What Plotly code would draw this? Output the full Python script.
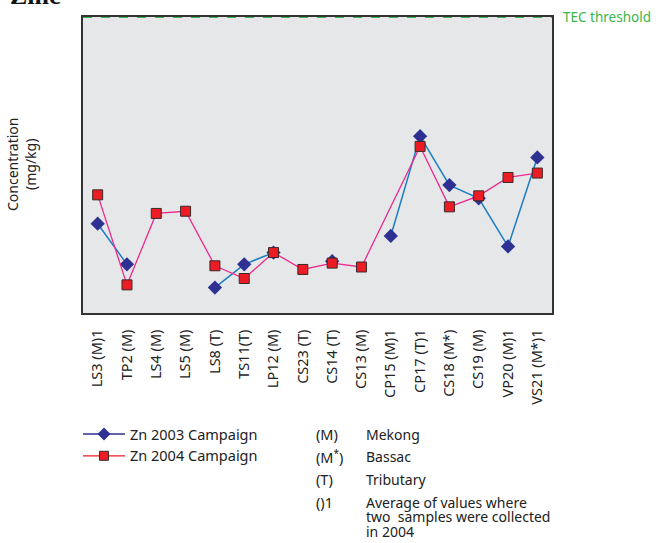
import plotly.graph_objects as go

categories = ["LS3 (M)1", "TP2 (M)", "LS4 (M)", "LS5 (M)", "LS8 (T)", "TS11(T)",
              "LP12 (M)", "CS23 (T)", "CS14 (T)", "CS13 (M)", "CP15 (M)1",
              "CP17 (T)1", "CS18 (M*)", "CS19 (M)", "VP20 (M)1", "VS21 (M*)1"]
zn_2003 = [36.5, 19.9, None, None, 10.4, 19.9, 24.7, None, 21.2, None,
           31.5, 72.3, 52.3, 46.9, 27.2, 63.6]
zn_2004 = [48.3, 11.5, 40.7, 41.6, 19.3, 14.1, 24.7, 17.8, 20.4, 18.8,
           None, 68.1, 43.4, 47.9, 55.4, 57.2]
tec_threshold = 121
series_names = ["Zn 2003 Campaign", "Zn 2004 Campaign"]
note_keys = ["(M)", "(M<sup>*</sup>)", "(T)", "()1"]
note_lines = [["Mekong"], ["Bassac"], ["Tributary"],
              ["Average of values where", "two  samples were collected", "in 2004"]]

W, H = 659, 543
L, R, T, B = 83, 107, 17, 230
PW, PH = W - L - R, H - T - B


def xp(px):  # pixel -> paper x
    return (px - L) / PW


def yp(py):  # pixel -> paper y
    return (H - B - py) / PH


FONT = "Noto Sans"
FS = 14.5
fig = go.Figure()

fig.add_trace(go.Scatter(
    x=categories, y=zn_2003, mode="lines+markers", showlegend=False,
    line=dict(color="#1a7dc2", width=1.5),
    marker=dict(symbol="diamond", size=11, color="#2e3192"),
    connectgaps=False))
fig.add_trace(go.Scatter(
    x=categories, y=zn_2004, mode="lines+markers", showlegend=False,
    line=dict(color="#ec2a8e", width=1.3),
    marker=dict(symbol="square", size=10, color="#ed1c24",
                line=dict(color="#3a2a2a", width=1)),
    connectgaps=True))

# legend-only traces
fig.add_trace(go.Scatter(
    x=[None], y=[None], mode="lines+markers", name=series_names[0],
    line=dict(color="#2e3192", width=1.5),
    marker=dict(symbol="diamond", size=10, color="#2e3192")))
fig.add_trace(go.Scatter(
    x=[None], y=[None], mode="lines+markers", name=series_names[1],
    line=dict(color="#ed1c24", width=1.3),
    marker=dict(symbol="square", size=9, color="#ed1c24",
                line=dict(color="#3a2a2a", width=1))))

fig.add_shape(type="line", xref="paper", yref="y", x0=0, x1=1,
              y0=tec_threshold, y1=tec_threshold,
              line=dict(color="#39b54a", width=2, dash="dash"))

annotations = [
    dict(text="TEC threshold", xref="paper", yref="y", x=xp(561), y=tec_threshold,
         xanchor="left", yanchor="middle", showarrow=False,
         font=dict(family=FONT, size=13.5, color="#39b54a")),
    dict(text="<b>Zinc</b>", xref="paper", yref="paper", x=xp(8), y=yp(-4),
         xanchor="left", yanchor="middle", showarrow=False,
         font=dict(family="Liberation Serif", size=26, color="#111")),
    dict(text="Concentration<br>(mg/kg)", xref="paper", yref="paper",
         x=xp(21), y=0.5, xanchor="center", yanchor="middle", showarrow=False,
         textangle=-90,
         font=dict(family=FONT, size=14, color="#222")),
]
rows = [434, 456, 479, 502]
for key, lines, ry in zip(note_keys, note_lines, rows):
    annotations.append(dict(text=key, xref="paper", yref="paper", x=xp(314), y=yp(ry),
                            xanchor="left", yanchor="middle", showarrow=False,
                            font=dict(family=FONT, size=FS, color="#222")))
    for i, ln in enumerate(lines):
        annotations.append(dict(text=ln, xref="paper", yref="paper", x=xp(364),
                                y=yp(ry + 14.5 * i), xanchor="left", yanchor="middle",
                                showarrow=False, align="left",
                                font=dict(family=FONT, size=14, color="#222")))

fig.update_layout(
    width=W, height=H,
    margin=dict(l=L, r=R, t=T, b=B),
    paper_bgcolor="white", plot_bgcolor="#e6e7e8",
    font=dict(family=FONT, size=FS, color="#222"),
    xaxis=dict(type="category", categoryorder="array", categoryarray=categories,
               range=[-0.5, len(categories) - 0.5], tickangle=-90,
               showline=True, linecolor="#333", linewidth=1.5, mirror=True,
               showgrid=False, ticks="", ticklabelstandoff=9,
               tickfont=dict(family=FONT, size=FS, color="#222")),
    yaxis=dict(range=[0, tec_threshold], showticklabels=False, showgrid=False,
               zeroline=False, showline=True, linecolor="#333", linewidth=1.5,
               mirror=True, ticks=""),
    legend=dict(x=xp(78), y=yp(418), xanchor="left", yanchor="top",
                itemwidth=42,
                bgcolor="rgba(0,0,0,0)", font=dict(family=FONT, size=FS, color="#222"),
                tracegroupgap=0),
    annotations=annotations,
)

fig.write_html("out.html", config={"displayModeBar": False},
               post_script="document.body.style.margin='0px';document.body.style.padding='0px';")
